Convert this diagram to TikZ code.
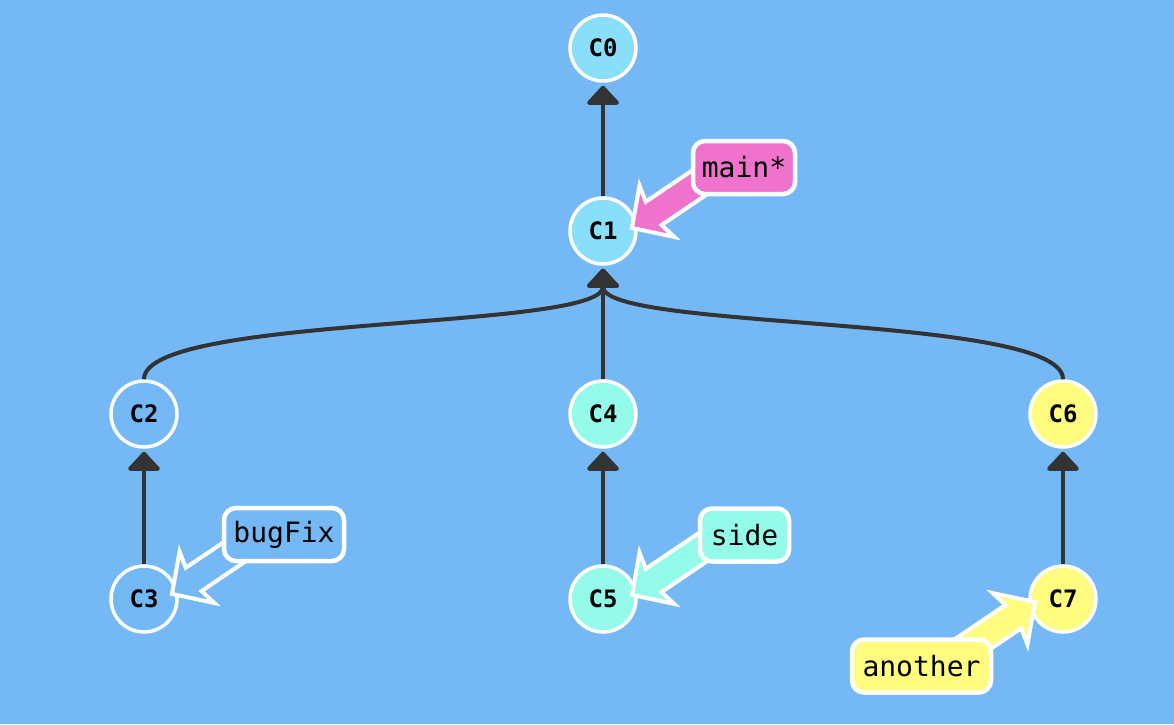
\documentclass[tikz,border=0pt]{standalone}
\usepackage{fontspec}
\usetikzlibrary{calc,arrows.meta}
\newfontfamily\gitmono{DejaVu Sans Mono}
\definecolor{bgblue}{HTML}{74B8F5}
\definecolor{edgegray}{HTML}{333333}
\definecolor{cyanfill}{HTML}{89DFFA}
\definecolor{aquafill}{HTML}{94FBEB}
\definecolor{yellowfill}{HTML}{FFFC80}
\definecolor{pinkfill}{HTML}{EF72CC}
\tikzset{
	commit/.style={circle, draw=white, line width=3.5pt, minimum size=66pt, inner sep=0pt,
		font=\gitmono\bfseries\fontsize{24}{24}\selectfont},
	branchbox/.style={draw=white, line width=4.5pt, rounded corners=12pt, minimum height=53pt,
		inner sep=0pt, font=\gitmono\fontsize{28}{28}\selectfont},
	parentedge/.style={draw=edgegray, line width=4pt, -{Triangle[width=36pt,length=20pt,round]}, shorten >=3pt},
	pointer/.style={draw=white, line width=4pt, line join=miter},
}
\newcommand{\branchpointer}[3]{%
	\draw[pointer, fill=#3] (#1) -- ($(#1)!43.1pt!45.9:(#2)$) -- ($(#1)!29.7pt!28.3:(#2)$)
		-- ($(#2)!14pt!-90:(#1)$) -- ($(#2)!14pt!90:(#1)$)
		-- ($(#1)!29.7pt!-28.3:(#2)$) -- ($(#1)!43.1pt!-45.9:(#2)$) -- cycle;}

\begin{document}
\begin{tikzpicture}[x=1pt,y=-1pt]
	\useasboundingbox (0,0) rectangle (1174,724);
	\fill[bgblue] (0,0) rectangle (1174,724);
	
	\node[commit, fill=cyanfill] (C0) at (603,48) {C0};
	\node[commit, fill=cyanfill] (C1) at (603,231) {C1};
	\node[commit, fill=bgblue] (C2) at (144,414) {C2};
	\node[commit, fill=bgblue] (C3) at (144,599) {C3};
	\node[commit, fill=aquafill] (C4) at (603,414) {C4};
	\node[commit, fill=aquafill] (C5) at (603,599) {C5};
	\node[commit, fill=yellowfill] (C6) at (1063,414) {C6};
	\node[commit, fill=yellowfill] (C7) at (1063,599) {C7};
	
	\draw[parentedge] (C1.north) -- (C0.south);
	\draw[parentedge] (C4.north) -- (C1.south);
	\draw[parentedge] (C2.north) .. controls +(0,-65) and +(0,65) .. (C1.south);
	\draw[parentedge] (C6.north) .. controls +(0,-65) and +(0,65) .. (C1.south);
	\draw[parentedge] (C3.north) -- (C2.south);
	\draw[parentedge] (C5.north) -- (C4.south);
	\draw[parentedge] (C7.north) -- (C6.south);
	
	\coordinate (mainTip) at ($(C1)+(29,-3)$);
	\coordinate (mainTail) at ($(mainTip)+(83,-56)$);
	\coordinate (bugFixTip) at ($(C3)+(28,-5)$);
	\coordinate (bugFixTail) at ($(bugFixTip)+(83,-56)$);
	\coordinate (sideTip) at ($(C5)+(29,-4)$);
	\coordinate (sideTail) at ($(sideTip)+(83,-56)$);
	\coordinate (anotherTip) at ($(C7)+(-28,3)$);
	\coordinate (anotherTail) at ($(anotherTip)+(-83,56)$);
	
	\branchpointer{mainTip}{mainTail}{pinkfill}
	\branchpointer{bugFixTip}{bugFixTail}{bgblue}
	\branchpointer{sideTip}{sideTail}{aquafill}
	\branchpointer{anotherTip}{anotherTail}{yellowfill}
	
	\node[branchbox, fill=pinkfill, minimum width=102pt] (main) at (744,167.5) {main*};
	\node[branchbox, fill=bgblue, minimum width=120pt] (bugFix) at (284,534.5) {bugFix};
	\node[branchbox, fill=aquafill, minimum width=89pt] (side) at (744.5,535) {side};
	\node[branchbox, fill=yellowfill, minimum width=139pt] (another) at (921.5,666) {another};
\end{tikzpicture}
\end{document}
